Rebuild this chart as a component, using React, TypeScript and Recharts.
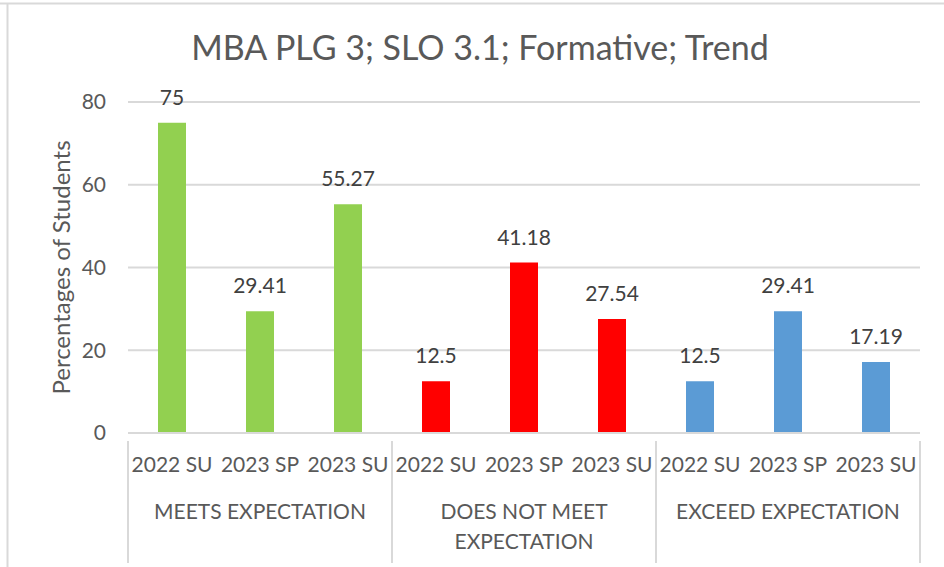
import { Bar, BarChart, CartesianGrid, Cell, LabelList, XAxis, YAxis } from "recharts";

const groups = ["MEETS EXPECTATION", "DOES NOT MEET EXPECTATION", "EXCEED EXPECTATION"];
const groupLines = [["MEETS EXPECTATION"], ["DOES NOT MEET", "EXPECTATION"], ["EXCEED EXPECTATION"]];
const terms = ["2022 SU", "2023 SP", "2023 SU"];
const meets = [75, 29.41, 55.27];
const notMeet = [12.5, 41.18, 27.54];
const exceed = [12.5, 29.41, 17.19];
const groupColors = ["#92D050", "#FF0000", "#5B9BD5"];
const yTicks = [0, 20, 40, 60, 80];

const series = [meets, notMeet, exceed];
const data = groups.flatMap((g, gi) =>
  terms.map((t, ti) => ({ key: `${gi}-${ti}`, group: g, gi, term: t, value: series[gi][ti] }))
);

const FONT = "Lato, 'Open Sans', sans-serif";
const AXIS = "#d9d9d9";

function CategoryTick(props: any) {
  const { x, y, index, width } = props;
  const bw = width / data.length;
  const row = data[index];
  const ti = index % terms.length;
  return (
    <g>
      <text x={x} y={y + 31} textAnchor="middle" fontSize={21} fill="#595959" fontFamily={FONT}>
        {row.term}
      </text>
      {ti === 1 &&
        groupLines[row.gi].map((line, li) => (
          <text key={li} x={x} y={y + 78 + li * 30} textAnchor="middle" fontSize={21} fill="#595959" fontFamily={FONT}>
            {line}
          </text>
        ))}
      {ti === 0 && <line x1={x - bw / 2} x2={x - bw / 2} y1={y} y2={y + 122} stroke={AXIS} strokeWidth={2} />}
      {index === data.length - 1 && (
        <line x1={x + bw / 2} x2={x + bw / 2} y1={y} y2={y + 122} stroke={AXIS} strokeWidth={2} />
      )}
    </g>
  );
}

export default function App() {
  return (
    <div style={{ position: "absolute", left: 0, top: 0, width: 944, height: 567, background: "#fff" }}>
      <svg width={944} height={567} style={{ position: "absolute", left: 0, top: 0 }}>
        <line x1={0} x2={944} y1={3.5} y2={3.5} stroke={AXIS} strokeWidth={2} />
        <line x1={7.5} x2={7.5} y1={3} y2={567} stroke={AXIS} strokeWidth={2} />
        <text x={480} y={60} textAnchor="middle" fontSize={34} fill="#595959" fontFamily={FONT}>
          MBA PLG 3; SLO 3.1; Formative; Trend
        </text>
      </svg>
      <div style={{ position: "absolute", left: 0, top: 0 }}>
        <BarChart
          width={944}
          height={567}
          data={data}
          margin={{ top: 102, right: 24, bottom: 12, left: 0 }}
          barSize={28}
        >
          <CartesianGrid vertical={false} stroke={AXIS} strokeWidth={2} />
          <XAxis
            dataKey="key"
            interval={0}
            height={122}
            tickLine={false}
            axisLine={{ stroke: AXIS, strokeWidth: 2 }}
            tick={<CategoryTick />}
          />
          <YAxis
            width={128}
            domain={[0, 80]}
            ticks={yTicks}
            axisLine={false}
            tickLine={false}
            tickSize={0}
            tickMargin={22}
            tick={{ fontSize: 21, fill: "#595959", fontFamily: FONT }}
            label={({ viewBox }: any) => (
              <text
                x={60}
                y={viewBox.y + viewBox.height / 2}
                transform={`rotate(-90 60 ${viewBox.y + viewBox.height / 2})`}
                textAnchor="middle"
                dominantBaseline="central"
                fontSize={24}
                fill="#595959"
                fontFamily={FONT}
              >
                Percentages of Students
              </text>
            )}
          />
          <Bar dataKey="value" isAnimationActive={false}>
            {data.map((d) => (
              <Cell key={d.key} fill={groupColors[d.gi]} />
            ))}
            <LabelList dataKey="value" position="top" offset={18} fontSize={21} fill="#404040" fontFamily={FONT} />
          </Bar>
        </BarChart>
      </div>
    </div>
  );
}
